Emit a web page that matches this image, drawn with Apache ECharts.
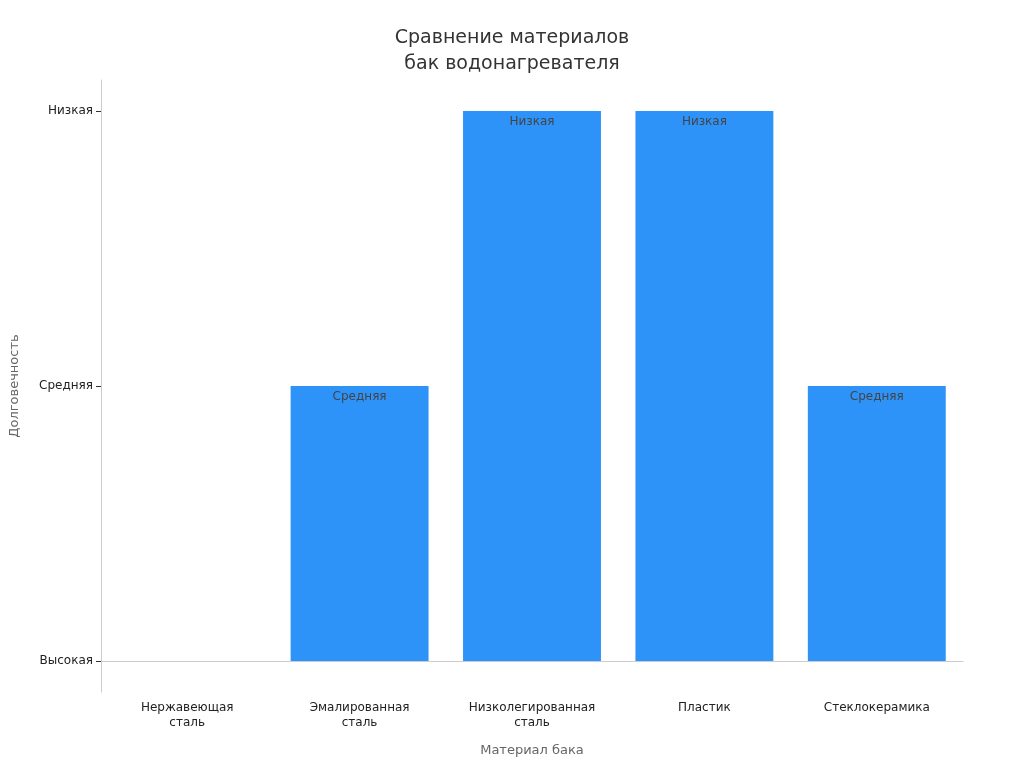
<!DOCTYPE html>
<html lang="ru">
<head>
<meta charset="UTF-8">
<script src="https://cdn.jsdelivr.net/npm/echarts@6/dist/echarts.min.js"></script>
</head>
<body style="margin:0">
<div id="main" style="width:1024px;height:768px;"></div>
<script>
const materials = ['Нержавеющая\nсталь', 'Эмалированная\nсталь', 'Низколегированная\nсталь', 'Пластик', 'Стеклокерамика'];
const levels = ['Высокая', 'Средняя', 'Низкая'];
const durability = [0, 1, 2, 2, 1];

const chart = echarts.init(document.getElementById('main'));
chart.setOption({
    textStyle: { fontFamily: 'DejaVu Sans' },
    title: {
        text: 'Сравнение материалов\nбак водонагревателя',
        left: 'center', top: 20,
        textStyle: { fontSize: 19, fontWeight: 'normal', color: '#333', lineHeight: 26 }
    },
    grid: { left: 97, right: 61, top: 80, bottom: 76 },
    xAxis: {
        type: 'category',
        data: materials,
        name: 'Материал бака',
        nameLocation: 'middle',
        nameGap: 52,
        nameTextStyle: { fontSize: 13, color: '#666' },
        axisLine: { lineStyle: { color: '#ccc' } },
        axisTick: { alignWithLabel: true, lineStyle: { color: '#333' } },
        axisLabel: { color: '#222', fontSize: 12, lineHeight: 15 }
    },
    yAxis: {
        type: 'value',
        min: -0.113, max: 2.113,
        name: 'Долговечность',
        nameLocation: 'middle',
        nameGap: 80,
        nameTextStyle: { fontSize: 13, color: '#666' },
        splitLine: { show: false },
        axisLine: { show: true, lineStyle: { color: '#ccc' } },
        axisTick: { show: true, customValues: [0, 1, 2], lineStyle: { color: '#333' } },
        axisLabel: {
            customValues: [0, 1, 2],
            color: '#222', fontSize: 12,
            formatter: v => levels[Math.round(v)]
        }
    },
    series: [{
        type: 'bar',
        data: durability,
        barWidth: '80%',
        itemStyle: { color: '#2E93F8' },
        label: {
            show: true, position: 'insideTop', color: '#444', fontSize: 12,
            formatter: p => p.value > 0 ? levels[p.value] : ''
        }
    }]
});
</script>
</body>
</html>
